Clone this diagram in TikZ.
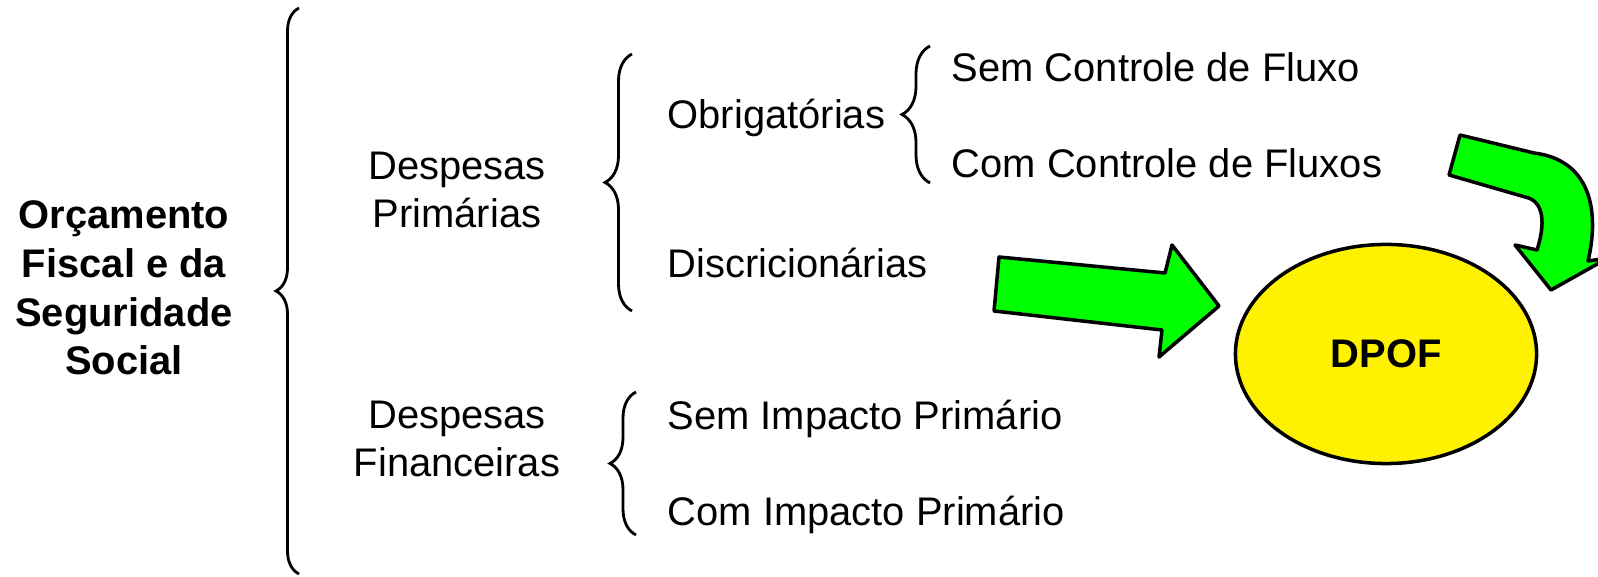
\documentclass[tikz,border=0pt]{standalone}
\usepackage{fontspec}
\setmainfont{Liberation Sans}
\usetikzlibrary{positioning, shapes.geometric, decorations.pathreplacing}

\newcommand{\fonte}{\fontsize{11.35pt}{13.85pt}\selectfont}

\tikzset{
  texto/.style={anchor=base west, inner sep=0pt},
  grupo/.style={align=center, inner sep=0pt},
  chave/.style={decorate, decoration={brace, amplitude=#1}, line width=0.8pt},
  seta/.style={fill=green, draw=black, line width=1pt, line join=round},
}

\begin{document}
\begin{tikzpicture}[x=0.01cm, y=-0.01cm, font=\fonte]
    \useasboundingbox (0,0) rectangle (1598,577);

    % raiz
    \node [grupo, font=\fonte\bfseries] (orc) at (124,288) {Orçamento\\Fiscal e da\\Seguridade\\Social};

    % grupos
    \node [grupo] (prim) at (457,190) {Despesas\\Primárias};
    \node [grupo] (fin) at (457,439) {Despesas\\Financeiras};

    % folhas
    \node [texto] (obrig) at (667,129) {Obrigatórias};
    \node [texto] (discr) at (667,278) {Discricionárias};
    \node [texto] (semctrl) at (951,82) {Sem Controle de Fluxo};
    \node [texto] (comctrl) at (951,178) {Com Controle de Fluxos};
    \node [texto] (semimp) at (667,430) {Sem Impacto Primário};
    \node [texto] (comimp) at (667,526) {Com Impacto Primário};

    % chaves
    \draw [chave=0.23cm] (299,574) -- (299,8);
    \draw [chave=0.27cm] (632,311) -- (632,54);
    \draw [chave=0.28cm] (930,183) -- (930,46);
    \draw [chave=0.26cm] (636,535) -- (636,392);

    % DPOF
    \node [ellipse, draw, fill=yellow, line width=1pt, minimum width=3.01cm,
           minimum height=2.19cm, inner sep=0pt, font=\fonte\bfseries] (dpof) at (1386,354) {DPOF};

    % setas
    \draw [seta] (999,257) -- (1165,273) -- (1172,245) -- (1219,306)
        -- (1159,357) -- (1162,330) -- (994,311) -- cycle;
    \begin{scope}
      \clip (0,0) rectangle (1598,577);
      \draw [seta] (1460,135) -- (1449,175) -- (1525,197)
          .. controls (1545,201) and (1545,225) .. (1537,250)
          -- (1515,245) -- (1551,290) -- (1608,258) -- (1588,261)
          .. controls (1600,210) and (1590,160) .. (1534,153) -- cycle;
    \end{scope}
\end{tikzpicture}
\end{document}
